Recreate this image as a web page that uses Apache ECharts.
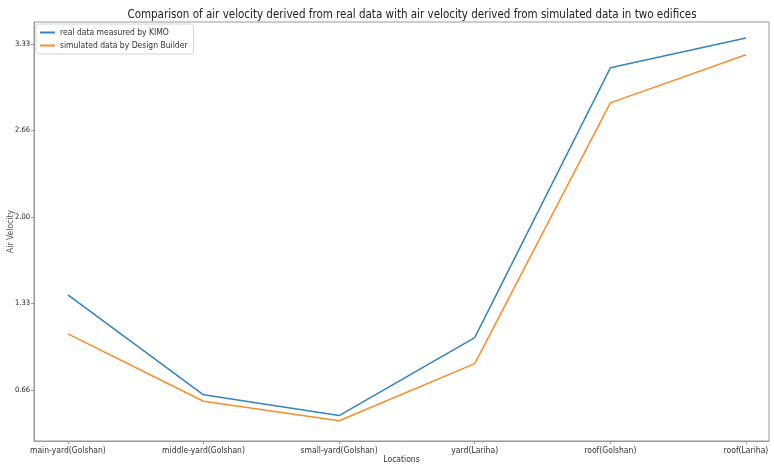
<!DOCTYPE html>
<html><head><meta charset="utf-8">
<script src="https://cdn.jsdelivr.net/npm/echarts@6/dist/echarts.min.js"></script>
<style>html,body{margin:0;padding:0;background:#fff}#c{width:774px;height:466px}</style>
</head><body><div id="c"></div>
<script>
var categories = ['main-yard(Golshan)','middle-yard(Golshan)','small-yard(Golshan)','yard(Lariha)','roof(Golshan)','roof(Lariha)'];
var realKIMO = [1.40, 0.63, 0.47, 1.07, 3.15, 3.38];
var simulatedDB = [1.10, 0.58, 0.43, 0.87, 2.88, 3.25];
var yTickValues = [0.6667, 1.3333, 2.0, 2.6667, 3.3333];
var yTickLabels = ['0.66', '1.33', '2.00', '2.66', '3.33'];
var seriesNames = ['real data measured by KIMO', 'simulated data by Design Builder'];

var FONT = "'DejaVu Sans Condensed', 'Liberation Sans Narrow', 'DejaVu Sans', sans-serif";
var idx = categories.map(function(_, i){ return i; });
function pairs(arr){ return arr.map(function(v, i){ return [i, v]; }); }

var chart = echarts.init(document.getElementById('c'), null, {renderer: 'canvas'});
chart.setOption({
  animation: false,
  backgroundColor: '#fff',
  title: {
    text: 'Comparison of air velocity derived from real data with air velocity derived from simulated data in two edifices',
    left: 407, top: 4, textAlign: 'center',
    textStyle: {fontFamily: FONT, fontSize: 11.5, fontWeight: 'normal', color: '#222'}
  },
  legend: {
    orient: 'vertical', left: 36, top: 24,
    data: seriesNames,
    icon: 'rect', itemWidth: 15, itemHeight: 2, itemGap: 4,
    padding: [4, 6, 4, 4],
    borderColor: '#d6d6d6', borderWidth: 1, borderRadius: 3,
    backgroundColor: '#fff',
    textStyle: {fontFamily: FONT, fontSize: 8.5, color: '#333'}
  },
  grid: {left: 34, right: 5, top: 22, bottom: 25, show: true, borderColor: '#999', borderWidth: 1,
         containLabel: false, outerBoundsMode: 'none'},
  xAxis: {
    type: 'value', min: -0.25, max: 5.17,
    name: 'Locations', nameLocation: 'middle', nameGap: 19, nameMoveOverlap: false,
    nameTextStyle: {fontFamily: FONT, fontSize: 8.5, color: '#333', verticalAlign: 'middle'},
    axisLine: {show: true, onZero: false, lineStyle: {color: '#999'}},
    axisTick: {show: true, length: 3, customValues: idx, lineStyle: {color: '#999'}},
    axisLabel: {customValues: idx, margin: 5, fontFamily: FONT, fontSize: 8.5, color: '#333',
      hideOverlap: false,
      formatter: function(v){ return categories[Math.round(v)]; }},
    splitLine: {show: false}
  },
  yAxis: {
    type: 'value', min: 0.274, max: 3.503,
    name: 'Air Velocity', nameLocation: 'middle', nameGap: 19, nameRotate: 90, nameMoveOverlap: false,
    nameTextStyle: {fontFamily: FONT, fontSize: 8.5, color: '#555'},
    axisLine: {show: true, onZero: false, lineStyle: {color: '#999'}},
    axisTick: {show: true, length: 3, customValues: yTickValues, lineStyle: {color: '#999'}},
    axisLabel: {customValues: yTickValues, margin: 4, fontFamily: FONT, fontSize: 7.5, color: '#222',
      formatter: function(v){
        for (var i = 0; i < yTickValues.length; i++) if (Math.abs(v - yTickValues[i]) < 1e-3) return yTickLabels[i];
        return '';
      }},
    splitLine: {show: false}
  },
  series: [
    {name: seriesNames[0], type: 'line', data: pairs(realKIMO), showSymbol: false,
     lineStyle: {color: '#3384bf', width: 1.5}, itemStyle: {color: '#3384bf'}},
    {name: seriesNames[1], type: 'line', data: pairs(simulatedDB), showSymbol: false,
     lineStyle: {color: '#fa8c2a', width: 1.5}, itemStyle: {color: '#fa8c2a'}}
  ]
});
</script></body></html>
